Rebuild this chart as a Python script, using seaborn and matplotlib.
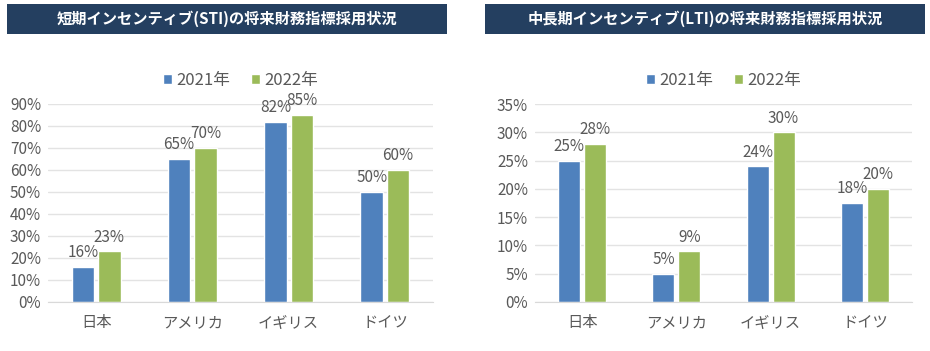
import matplotlib
matplotlib.use("Agg")
import matplotlib.pyplot as plt
import seaborn as sns
import pandas as pd
from matplotlib.patches import Rectangle
from matplotlib.ticker import PercentFormatter, MultipleLocator

countries = ["日本", "アメリカ", "イギリス", "ドイツ"]
years = ["2021年", "2022年"]
sti_2021 = [16, 65, 82, 50]
sti_2022 = [23, 70, 85, 60]
lti_2021 = [25, 5, 24, 17.5]
lti_2022 = [28, 9, 30, 20]
lti_labels_2021 = ["25%", "5%", "24%", "18%"]
lti_labels_2022 = ["28%", "9%", "30%", "20%"]
sti_labels_2021 = ["16%", "65%", "82%", "50%"]
sti_labels_2022 = ["23%", "70%", "85%", "60%"]
title_sti = "短期インセンティブ(STI)の将来財務指標採用状況"
title_lti = "中長期インセンティブ(LTI)の将来財務指標採用状況"

sns.set_style("white")
plt.rcParams["font.family"] = ["Noto Sans CJK JP", "DejaVu Sans"]

BLUE = "#4F81BD"
GREEN = "#9BBB59"
NAVY = "#243F60"
TXT = "#595959"

fig = plt.figure(figsize=(9.3, 3.51), dpi=100)

def make_df(v1, v2):
    return pd.DataFrame({
        "国": countries * 2,
        "年": [years[0]] * 4 + [years[1]] * 4,
        "値": list(v1) + list(v2),
    })

def draw(ax, v1, v2, l1, l2, ymax, step, title, bar_x0, bar_x1):
    df = make_df(v1, v2)
    sns.barplot(data=df, x="国", y="値", hue="年", order=countries, hue_order=years,
                palette=[BLUE, GREEN], width=0.55, gap=0.15, ax=ax, saturation=1)
    ax.set_ylim(0, ymax)
    ax.yaxis.set_major_locator(MultipleLocator(step))
    ax.yaxis.set_major_formatter(PercentFormatter(decimals=0))
    ax.grid(axis="y", color="#E3E3E3", linewidth=1)
    ax.set_axisbelow(True)
    for s in ["top", "right", "left"]:
        ax.spines[s].set_visible(False)
    ax.spines["bottom"].set_color("#D9D9D9")
    ax.set_xlabel("")
    ax.set_ylabel("")
    ax.tick_params(axis="both", length=0, labelsize=11, colors=TXT, pad=5)
    ax.tick_params(axis="x", pad=9)
    for cont, labs in zip(ax.containers, [l1, l2]):
        ax.bar_label(cont, labels=labs, padding=4, fontsize=11, color=TXT)
    ax.legend(loc="lower center", bbox_to_anchor=(0.5, 1.0), ncol=2, frameon=False,
              fontsize=12, handlelength=0.55, handleheight=0.55, handletextpad=0.3,
              columnspacing=1.2, labelcolor=TXT)
    # title bar
    fig.patches.append(Rectangle((bar_x0 / 930, 1 - 34 / 351), (bar_x1 - bar_x0) / 930, 30 / 351,
                                 transform=fig.transFigure, facecolor=NAVY, edgecolor="none"))
    fig.text((bar_x0 + bar_x1) / 2 / 930, 1 - 19 / 351, title, ha="center", va="center",
             color="white", fontsize=11, fontweight="bold")

ax1 = fig.add_axes([48 / 930, 1 - 302 / 351, 385 / 930, 198 / 351])
draw(ax1, sti_2021, sti_2022, sti_labels_2021, sti_labels_2022, 90, 10, title_sti, 7, 447)
ax2 = fig.add_axes([535 / 930, 1 - 302 / 351, 377 / 930, 198 / 351])
draw(ax2, lti_2021, lti_2022, lti_labels_2021, lti_labels_2022, 35, 5, title_lti, 485, 925)

fig.savefig("out.png", dpi=100)
